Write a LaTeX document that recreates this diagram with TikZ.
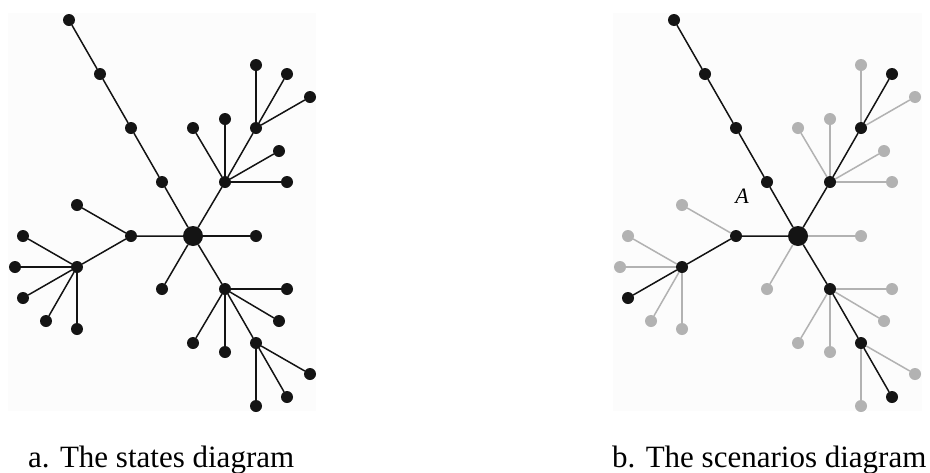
\documentclass[tikz,border=0pt]{standalone}
\usepackage{fontspec}
\setmainfont{Liberation Serif}
\definecolor{dotgrey}{RGB}{178,178,178}
\definecolor{bgtone}{RGB}{252,252,252}
\definecolor{ink}{RGB}{20,20,20}
\tikzset{
  dot/.style={circle, inner sep=0pt, outer sep=0pt, minimum size=12pt, draw=none},
  hub/.style={circle, inner sep=0pt, outer sep=0pt, minimum size=20pt, fill=ink, draw=none},
  edge/.style={line width=1.5pt},
  caption/.style={anchor=base west, inner sep=0pt, font=\fontsize{31}{36}\selectfont},
}
\begin{document}
\begin{tikzpicture}[x=1pt,y=-1pt]
\useasboundingbox (0,0) rectangle (930,472);
\fill[bgtone] (8,13) rectangle (316,411);
\fill[bgtone] (613,13) rectangle (922,411);
\foreach \P/\dx/\oc in {a/0/ink, b/605/dotgrey} {
\begin{scope}[xshift=\dx]
  % nodes on the highlighted scenario
  \node[hub] (\P-c) at (193,236) {};
  \node[dot, fill=ink] (\P-p1) at (162,182) {};
  \node[dot, fill=ink] (\P-p2) at (131,128) {};
  \node[dot, fill=ink] (\P-p3) at (100,74) {};
  \node[dot, fill=ink] (\P-p4) at (69,20) {};
  \node[dot, fill=ink] (\P-u) at (225,182) {};
  \node[dot, fill=ink] (\P-v) at (256,128) {};
  \node[dot, fill=ink] (\P-v2) at (287,74) {};
  \node[dot, fill=ink] (\P-l1) at (131,236) {};
  \node[dot, fill=ink] (\P-l2) at (77,267) {};
  \node[dot, fill=ink] (\P-l2c) at (23,298) {};
  \node[dot, fill=ink] (\P-d1) at (225,289) {};
  \node[dot, fill=ink] (\P-d2) at (256,343) {};
  \node[dot, fill=ink] (\P-d2b) at (287,397) {};
  % other nodes
  \node[dot, fill=\oc] (\P-u1) at (193,128) {};
  \node[dot, fill=\oc] (\P-u2) at (225,119) {};
  \node[dot, fill=\oc] (\P-u3) at (279,151) {};
  \node[dot, fill=\oc] (\P-u4) at (287,182) {};
  \node[dot, fill=\oc] (\P-v1) at (256,65) {};
  \node[dot, fill=\oc] (\P-v3) at (310,97) {};
  \node[dot, fill=\oc] (\P-r) at (256,236) {};
  \node[dot, fill=\oc] (\P-g) at (162,289) {};
  \node[dot, fill=\oc] (\P-l1a) at (77,205) {};
  \node[dot, fill=\oc] (\P-l2a) at (23,236) {};
  \node[dot, fill=\oc] (\P-l2b) at (15,267) {};
  \node[dot, fill=\oc] (\P-l2d) at (46,321) {};
  \node[dot, fill=\oc] (\P-l2e) at (77,329) {};
  \node[dot, fill=\oc] (\P-d1a) at (287,289) {};
  \node[dot, fill=\oc] (\P-d1b) at (279,321) {};
  \node[dot, fill=\oc] (\P-d1c) at (193,343) {};
  \node[dot, fill=\oc] (\P-d1d) at (225,352) {};
  \node[dot, fill=\oc] (\P-d2a) at (310,374) {};
  \node[dot, fill=\oc] (\P-d2c) at (256,406) {};
  % highlighted edges
  \draw[edge, draw=ink] (\P-c) -- (\P-p1) -- (\P-p2) -- (\P-p3) -- (\P-p4);
  \draw[edge, draw=ink] (\P-c) -- (\P-u) -- (\P-v) -- (\P-v2);
  \draw[edge, draw=ink] (\P-c) -- (\P-l1) -- (\P-l2) -- (\P-l2c);
  \draw[edge, draw=ink] (\P-c) -- (\P-d1) -- (\P-d2) -- (\P-d2b);
  % other edges
  \foreach \t in {u1,u2,u3,u4} \draw[edge, draw=\oc] (\P-u) -- (\P-\t);
  \foreach \t in {v1,v3} \draw[edge, draw=\oc] (\P-v) -- (\P-\t);
  \foreach \t in {r,g} \draw[edge, draw=\oc] (\P-c) -- (\P-\t);
  \draw[edge, draw=\oc] (\P-l1) -- (\P-l1a);
  \foreach \t in {l2a,l2b,l2d,l2e} \draw[edge, draw=\oc] (\P-l2) -- (\P-\t);
  \foreach \t in {d1a,d1b,d1c,d1d} \draw[edge, draw=\oc] (\P-d1) -- (\P-\t);
  \foreach \t in {d2a,d2c} \draw[edge, draw=\oc] (\P-d2) -- (\P-\t);
\end{scope}
}
\node[font=\fontsize{22}{26}\selectfont\itshape, inner sep=0pt] (labA) at (742,196) {A};
\node[caption] (capa) at (28,467) {a. The states diagram};
\node[caption] (capb) at (612,467) {b. The scenarios diagram};
\end{tikzpicture}
\end{document}
